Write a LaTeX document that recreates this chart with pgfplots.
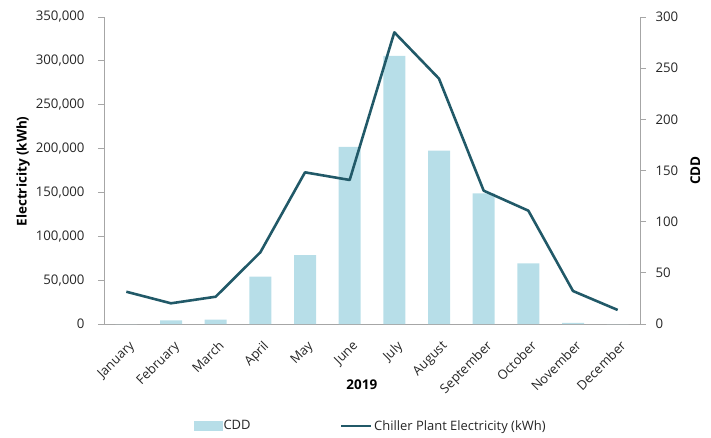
\documentclass[border=0pt]{standalone}
\usepackage{fontspec}
\setmainfont{Open Sans}
\usepackage{pgfplots}
\pgfplotsset{compat=1.18}
\definecolor{barc}{HTML}{B7DEE8}
\definecolor{linec}{HTML}{215968}
\definecolor{axc}{HTML}{A6A6A6}
\definecolor{txt}{HTML}{262626}
\begin{document}
\begin{tikzpicture}
\pgfplotsset{
  common/.style={
    scale only axis, width=536bp, height=307bp,
    xmin=-0.5, xmax=11.5, at={(0,0)}, anchor=south west,
    /pgf/number format/assume math mode=true,
    tick label style={font=\fontsize{13.3}{15}\selectfont, text=txt},
    label style={font=\fontsize{13.5}{15}\selectfont\bfseries, text=black},
    axis line style={axc, line width=0.8pt},
    tick style={axc, line width=0.8pt},
    major tick length=6bp, tick align=outside,
  }
}
\begin{axis}[common,
  ymin=0, ymax=300, ytick={0,50,...,300},
  axis y line*=right, axis x line*=bottom,
  xtick={0,...,11},
  xticklabels={January,February,March,April,May,June,July,August,September,October,November,December},
  x tick style={draw=none},
  xticklabel style={xshift=2bp, yshift=-5bp, rotate=45, anchor=north east, font=\fontsize{13}{15}\selectfont},
  yticklabel style={xshift=6bp},
  xlabel={2019}, ylabel={CDD},
  xlabel style={at={(axis description cs:0.481,-0.199)}, anchor=center},
  ylabel style={at={(axis description cs:1.103,0.5)}, anchor=center},
]
\addplot[ybar, bar width=22bp, fill=barc, draw=none] coordinates {
(0,0) (1,3.6) (2,4.2) (3,46.2) (4,67.4) (5,173) (6,262) (7,169.4) (8,127.7) (9,59.3) (10,1) (11,0)
};
\end{axis}
\begin{axis}[common,
  ymin=0, ymax=350000, ytick={0,50000,...,350000},
  axis y line*=left, axis x line=none,
  scaled y ticks=false,
  yticklabel style={xshift=-10bp, /pgf/number format/fixed, /pgf/number format/1000 sep={,}},
  ylabel={Electricity (kWh)},
  ylabel style={at={(axis description cs:-0.151,0.497)}, anchor=center},
  legend style={at={(axis description cs:0.497,-0.332)}, anchor=center, draw=none, legend columns=2,
    font=\fontsize{13}{15}\selectfont, text=txt, inner sep=0pt,
    nodes={inner sep=1.5bp},
    /tikz/every even column/.append style={column sep=88bp}},
]
\addlegendimage{legend image code/.code={\fill[barc] (-6bp,-4.5bp) rectangle (22bp,4.5bp);}}
\addlegendentry{CDD}
\addplot[linec, line width=2.6pt, line join=round,
  legend image code/.code={\draw[linec, line width=2.6pt] (-8bp,0bp) -- (22bp,0bp);}] coordinates {
(0,36800) (1,23600) (2,31100) (3,81700) (4,172900) (5,164200) (6,332500) (7,279700) (8,152000) (9,129200) (10,37600) (11,16000)
};
\addlegendentry{Chiller Plant Electricity (kWh)}
\end{axis}
\pgfresetboundingbox
\path (-104bp,-114bp) rectangle (607bp,324bp);
\end{tikzpicture}
\end{document}
